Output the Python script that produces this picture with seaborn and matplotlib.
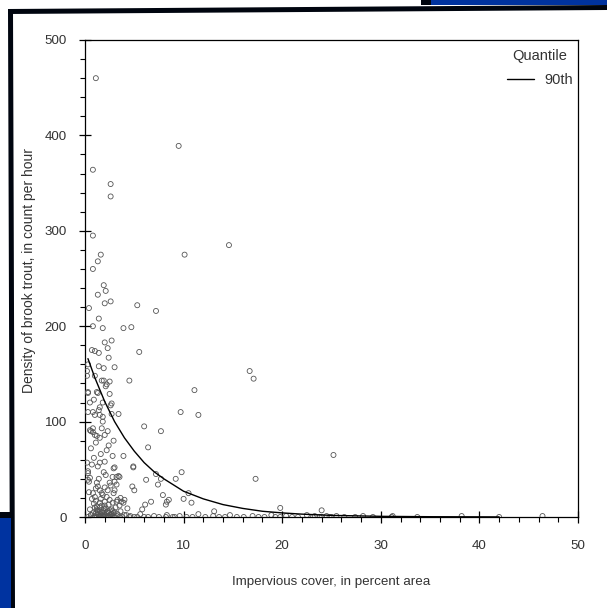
import matplotlib
matplotlib.use("Agg")
import matplotlib.pyplot as plt
from matplotlib.patches import Polygon, Rectangle
from matplotlib.ticker import MultipleLocator
import seaborn as sns
import pandas as pd

# ---------------- data ----------------
# scattered sites with higher densities
x_upper = [1.1, 0.8, 2.6, 2.6, 9.5, 0.8, 14.6, 10.1, 1.6, 1.3, 0.8, 1.9, 2.1, 1.3, 2.6, 2.0, 0.4, 5.3,
           7.2, 1.4, 0.8, 1.8, 3.9, 4.7, 2.7, 2.0, 2.3, 5.5, 0.7, 1.0, 1.4, 2.4, 1.4, 1.9, 3.0, 0.2,
           16.7, 17.1, 1.0, 1.7, 1.9, 2.5, 4.5, 2.2, 2.1, 0.3, 1.2, 1.3, 2.5, 11.1, 1.8, 0.9, 0.5, 2.7,
           2.6, 1.5, 1.4, 0.8, 1.0, 1.5, 1.8, 2.7, 3.4, 9.7, 11.5, 1.8, 0.8, 1.7, 2.3, 0.5, 0.6, 0.8,
           1.0, 1.2, 2.0, 1.5, 6.0, 7.7, 6.4, 25.2, 2.8, 3.9, 0.3, 0.3, 0.2, 0.3]
y_upper = [460, 364, 349, 336, 389, 295, 285, 275, 275, 268, 260, 243, 237, 233, 226, 224, 219, 222,
           216, 208, 200, 198, 198, 199, 185, 183, 177, 173, 175, 174, 172, 167, 158, 156, 157, 153,
           153, 145, 148, 143, 143, 142, 143, 139, 137, 130, 131, 130, 129, 133, 120, 123, 120, 119,
           117, 115, 112, 110, 107, 107, 105, 108, 108, 110, 107, 100, 93, 93, 90, 91, 90, 89,
           86, 85, 86, 83, 95, 90, 73, 65, 64, 64, 160, 110, 148, 131]

# sites with moderate densities
x_mid = [4.9, 9.8, 9.2, 17.3, 7.2, 7.7, 6.2, 4.8, 5.0, 7.4, 10.5, 7.9, 10.0, 10.8, 8.5, 8.3, 8.2, 6.7,
         6.1, 19.8, 24.0, 13.1, 3.9, 4.0, 3.6, 3.2, 2.9, 2.8, 3.0, 3.5, 3.2, 3.0, 2.9, 4.9, 3.0, 1.5,
         2.0, 1.3, 0.7, 0.4, 0.8, 0.3, 0.5, 1.2, 1.3, 1.5, 1.7, 1.8, 1.0, 2.2, 2.3, 2.5, 3.2, 3.4,
         3.3, 3.7, 2.8, 1.5, 1.2, 0.3, 0.2, 0.9, 1.6, 2.2, 2.4, 1.1, 2.9, 0.6, 1.9, 2.1, 1.4, 2.6,
         1.1, 2.0, 0.7, 1.6, 2.4, 0.9, 1.9, 2.7, 1.3, 2.2, 0.5, 3.1, 1.7, 2.5, 2.0, 1.1, 3.5, 4.3,
         5.8, 0.3, 0.4]
y_mid = [52, 47, 40, 40, 45, 40, 39, 32, 28, 34, 25, 23, 19, 15, 18, 16, 13, 16,
         13, 9.5, 7, 6, 15, 18, 20, 16, 51, 42, 37, 42, 34, 28, 25, 53, 52, 57,
         58, 53, 55, 26, 25, 39, 41, 36, 32, 28, 25, 23, 21, 21, 28, 36, 42, 43,
         18, 16, 15, 15, 11, 48, 57, 62, 66, 70, 75, 78, 80, 72, 47, 44, 40, 33,
         30, 31, 19, 19, 13, 14, 9, 8, 7, 5, 8, 10, 12, 18, 16, 17, 12, 9,
         8, 46, 37]

# sites with densities near zero
x_low = [0.3, 0.6, 0.9, 1.0, 1.2, 1.3, 1.5, 1.6, 1.8, 1.9, 2.0, 2.1, 2.3, 2.4, 2.5, 2.7, 2.8, 3.0,
         3.2, 3.5, 3.8, 4.2, 4.5, 4.6, 5.0, 5.3, 5.6, 6.0, 6.4, 7.0, 7.5, 8.2, 8.3, 8.9, 9.1, 9.6,
         10.3, 10.9, 11.5, 12.2, 13.0, 13.6, 14.2, 14.7, 15.4, 16.1, 17.0, 17.6, 18.2, 18.9, 19.3, 19.8,
         20.4, 21.0, 21.6, 22.5, 23.1, 23.3, 23.8, 24.0, 24.5, 24.8, 25.0, 25.5, 26.3, 27.4, 28.2, 29.2,
         31.1, 31.2, 33.7, 38.2, 42.0, 46.4,
         1.1, 1.4, 1.7, 2.0, 2.3, 2.6, 2.9, 1.2, 1.5, 1.8, 2.1, 2.4, 2.8, 3.3, 1.0, 1.6, 2.2, 2.5,
         3.0, 1.3, 1.9, 2.7, 1.5, 2.0, 0.8, 3.6, 4.0, 0.6]
y_low = [0, 2, 0, 1, 0, 3, 0, 0, 1, 0, 2, 0, 0, 1, 0, 3, 0, 0,
         1, 0, 0, 2, 0, 1, 0, 0, 3, 0, 0, 1, 0, 0, 2, 0, 0, 1,
         0, 0, 3, 0, 1, 0, 0, 2, 0, 0, 1, 0, 0, 2, 0, 0,
         1, 0, 0, 2, 0, 1, 0, 0, 1, 0, 0, 1, 0, 0, 1, 0,
         0, 1, 0, 1, 0, 1,
         4, 2, 5, 3, 6, 2, 4, 8, 6, 1, 9, 4, 6, 3, 10, 3, 1, 7,
         5, 5, 6, 3, 10, 12, 4, 6, 2, 2]

# 90th-percentile regression curve
curve_x = [0.3, 1, 2, 3, 4, 5, 6, 7, 8, 10, 12, 14, 16, 18, 20, 22, 25, 30, 35, 42]
curve_y = [166, 146, 121, 100, 83, 69, 57, 47.5, 40, 27, 19, 13, 9, 6, 4.3, 3, 1.7, 0.7, 0.3, 0.1]

x_ticks = [0, 10, 20, 30, 40, 50]
y_ticks = [0, 100, 200, 300, 400, 500]

pts = pd.DataFrame({"cover": x_upper + x_mid + x_low,
                    "density": y_upper + y_mid + y_low})
curve = pd.DataFrame({"cover": curve_x, "density": curve_y})

# ---------------- figure ----------------
sns.set_theme(style="ticks")
plt.rcParams["font.family"] = ["Liberation Sans", "DejaVu Sans"]

W, H = 607, 608
fig = plt.figure(figsize=(W / 100, H / 100), dpi=100)
fig.patch.set_facecolor("white")


def px(x, y):
    return (x / W, 1 - y / H)


blue = "#0033a0"
dark = "#00050f"
fig.patches.append(Rectangle(px(431, 5), (W - 431) / W, 5 / H, transform=fig.transFigure,
                             facecolor=blue, edgecolor="none"))
fig.patches.append(Rectangle(px(421, 5), 10 / W, 5 / H, transform=fig.transFigure,
                             facecolor=dark, edgecolor="none"))
fig.patches.append(Polygon([px(8, 9), px(W, 5), px(W, 10), px(8, 14)], closed=True,
                           transform=fig.transFigure, facecolor=dark, edgecolor="none"))
fig.patches.append(Polygon([px(8, 9), px(13, 9), px(15, H), px(10, H)], closed=True,
                           transform=fig.transFigure, facecolor=dark, edgecolor="none"))
fig.patches.append(Rectangle(px(0, 518), 10 / W, 6 / H, transform=fig.transFigure,
                             facecolor=dark, edgecolor="none"))
fig.patches.append(Rectangle(px(0, H), 10.5 / W, (H - 518) / H, transform=fig.transFigure,
                             facecolor=blue, edgecolor="none"))

ax = fig.add_axes([85 / W, (H - 517) / H, (578 - 85) / W, (517 - 40) / H])
ax.set_facecolor("white")

sns.scatterplot(data=pts, x="cover", y="density", ax=ax, marker="o", s=13,
                linewidth=0.6, edgecolor="#555555", color="#555555", zorder=3)
for coll in ax.collections:
    coll.set_facecolor("none")
    coll.set_edgecolor("#555555")

sns.lineplot(data=curve, x="cover", y="density", ax=ax, color="black", linewidth=1.0,
             label="90th", zorder=4)

ax.set_xlim(0, 50)
ax.set_ylim(0, 500)
ax.set_xticks(x_ticks)
ax.set_yticks(y_ticks)
ax.xaxis.set_minor_locator(MultipleLocator(2))
ax.yaxis.set_minor_locator(MultipleLocator(20))

for s in ax.spines.values():
    s.set_visible(True)
    s.set_color("black")
    s.set_linewidth(0.9)

ax.tick_params(which="major", direction="inout", length=8, width=0.9, color="black",
               labelsize=9.6, labelcolor="#333333")
ax.tick_params(axis="y", which="major", pad=9)
ax.tick_params(axis="x", which="major", pad=12.5)
ax.tick_params(which="minor", direction="out", length=3.5, width=0.8, color="black")

ax.set_xlabel("Impervious cover, in percent area", fontsize=9.6, color="#333333")
ax.set_ylabel("Density of brook trout, in count per hour", fontsize=10, color="#333333")
ax.xaxis.set_label_coords(0.5, -0.123)
ax.yaxis.set_label_coords(-0.099, 0.516)

leg = ax.legend(title="Quantile", frameon=False, loc="upper right",
                bbox_to_anchor=(0.990, 0.982), borderaxespad=0, borderpad=0,
                fontsize=10.5, title_fontsize=10.5, handlelength=1.9, handletextpad=0.7,
                labelspacing=0.7)
for t in leg.get_texts():
    t.set_color("#333333")
leg.get_title().set_color("#333333")

fig.savefig("out.png", dpi=100, facecolor=fig.get_facecolor())
